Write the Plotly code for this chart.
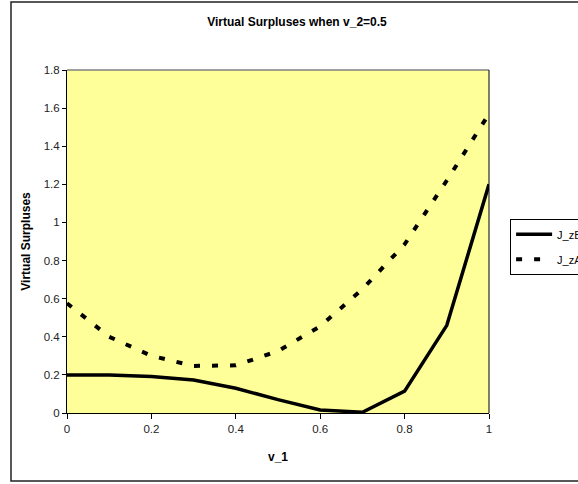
import plotly.graph_objects as go

v1 = [0, 0.1, 0.2, 0.3, 0.4, 0.5, 0.6, 0.7, 0.8, 0.9, 1.0]
j_zb = [0.2, 0.2, 0.192, 0.173, 0.13, 0.07, 0.016, 0.004, 0.115, 0.46, 1.2]
j_za = [0.576, 0.40, 0.30, 0.247, 0.25, 0.325, 0.455, 0.65, 0.885, 1.22, 1.57]

FONT = "Liberation Sans, Arial, sans-serif"

fig = go.Figure()
fig.add_trace(go.Scatter(x=v1, y=j_zb, mode="lines", name="J_zB",
                         line=dict(color="black", width=3.5), legendgroup="b"))
fig.add_trace(go.Scatter(x=v1, y=j_za, mode="lines", name="J_zA",
                         line=dict(color="black", width=4, dash="6px,12px"), legendgroup="a"))

fig.update_layout(
    width=578, height=484,
    margin=dict(l=67, r=89, t=70, b=71, autoexpand=False),
    paper_bgcolor="white",
    plot_bgcolor="#FFFF99",
    font=dict(family=FONT, size=11, color="black"),
    title=dict(text="<b>Virtual Surpluses when v_2=0.5</b>", x=0.545, xref="paper",
               xanchor="center", y=1 - 22 / 484, yref="container", yanchor="middle",
               font=dict(size=12, family=FONT, color="black")),
    xaxis=dict(range=[0, 1], tickvals=[0, 0.2, 0.4, 0.6, 0.8, 1],
               ticktext=["0", "0.2", "0.4", "0.6", "0.8", "1"],
               showgrid=False, zeroline=False, showline=True, linecolor="black",
               linewidth=1, ticks="outside", ticklen=5, tickcolor="black",
               title=dict(text="<b>v_1</b>", font=dict(size=12), standoff=18),
               tickfont=dict(size=11.5, color="#222")),
    yaxis=dict(range=[0, 1.8], tickvals=[0, 0.2, 0.4, 0.6, 0.8, 1, 1.2, 1.4, 1.6, 1.8],
               ticktext=["0", "0.2", "0.4", "0.6", "0.8", "1", "1.2", "1.4", "1.6", "1.8"],
               showgrid=False, zeroline=False, showline=True, linecolor="black",
               linewidth=1, ticks="outside", ticklen=4, tickcolor="black",
               title=dict(text="<b>Virtual Surpluses</b>", font=dict(size=12), standoff=10),
               tickfont=dict(size=11.5, color="#222")),
    legend=dict(x=1.05, y=0.566, xanchor="left", yanchor="top",
                bordercolor="black", borderwidth=1, bgcolor="white",
                font=dict(size=11, family=FONT), tracegroupgap=6,
                itemwidth=36),
    showlegend=True,
    shapes=[
        dict(type="line", xref="paper", yref="paper", x0=0, x1=1, y0=1, y1=1,
             line=dict(color="#808080", width=1.5)),
        dict(type="line", xref="paper", yref="paper", x0=1, x1=1, y0=0, y1=1,
             line=dict(color="black", width=1)),
        dict(type="rect", xref="paper", yref="paper", x0=-0.1327, x1=1.35,
             y0=-0.198, y1=1.198, line=dict(color="#222", width=1.5), layer="below"),
    ],
)

fig.write_html("out.html")
